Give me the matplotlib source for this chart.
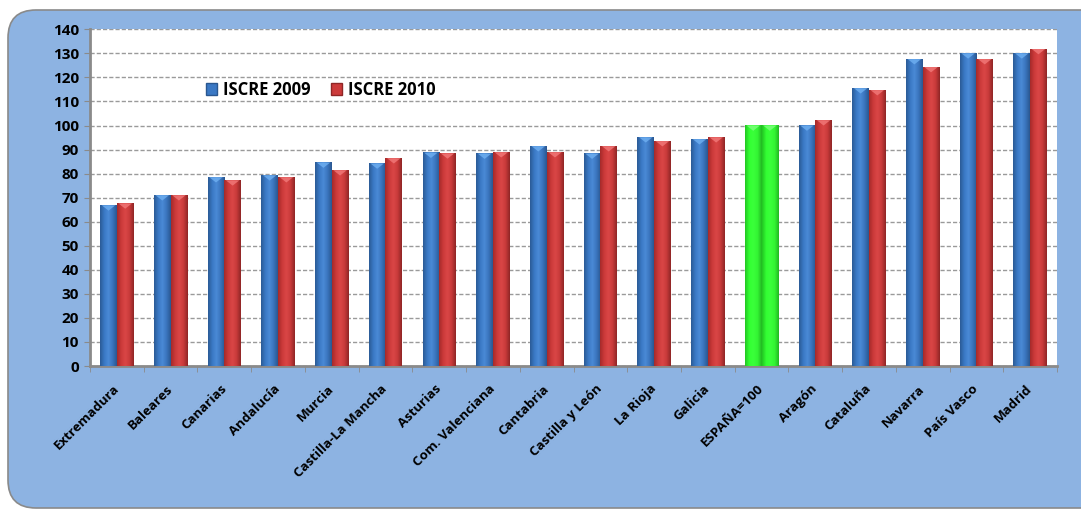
import numpy as np
import matplotlib

matplotlib.use("Agg")
import matplotlib.pyplot as plt
from matplotlib.colors import LinearSegmentedColormap
from matplotlib.patches import FancyBboxPatch, Polygon, Rectangle

plt.rcParams["font.family"] = ["Open Sans", "DejaVu Sans"]

regions = ["Extremadura", "Baleares", "Canarias", "Andalucía", "Murcia", "Castilla-La Mancha",
           "Asturias", "Com. Valenciana", "Cantabria", "Castilla y León", "La Rioja", "Galicia",
           "ESPAÑA=100", "Aragón", "Cataluña", "Navarra", "País Vasco", "Madrid"]
iscre_2009 = [66.8, 71.0, 78.5, 79.3, 84.6, 84.2, 88.7, 88.3, 91.4, 88.3, 95.1, 94.3,
              100.0, 100.0, 115.5, 127.6, 130.0, 130.0]
iscre_2010 = [67.6, 71.0, 77.2, 78.5, 81.4, 86.4, 88.4, 88.9, 88.9, 91.4, 93.5, 95.1,
              100.0, 102.2, 114.7, 124.3, 127.6, 131.8]
highlight = "ESPAÑA=100"

# cylinder-ish shading: dark edge -> light middle -> dark edge
CMAPS = {
    "blue": LinearSegmentedColormap.from_list("b", ["#2b5b96", "#3a78c4", "#4a8ad6", "#3a74bd", "#2a5790"]),
    "red": LinearSegmentedColormap.from_list("r", ["#a52a2a", "#cc3a3a", "#da4646", "#c83a3a", "#8f2626"]),
    "green": LinearSegmentedColormap.from_list("g", ["#22c622", "#33ff33", "#3aff3a", "#33f533", "#22b822"]),
}
CAPS = {"blue": "#6fb0f2", "red": "#f27a7a", "green": "#7dff7d"}
grad = np.linspace(0, 1, 64).reshape(1, -1)


def cyl_bar(ax, x0, w, h, kind):
    ax.imshow(grad, cmap=CMAPS[kind], extent=(x0, x0 + w, 0, h), aspect="auto",
              interpolation="bilinear", zorder=3)
    cap = Polygon([(x0 + 0.03, h), (x0 + w - 0.03, h), (x0 + w / 2, h - 2.2)],
                  closed=True, facecolor=CAPS[kind], edgecolor="none", alpha=0.8, zorder=4)
    ax.add_patch(cap)


W, H = 1081, 512
fig = plt.figure(figsize=(W / 100, H / 100), dpi=100)
fig.patch.set_facecolor("white")
# rounded blue panel behind the chart, in pixel units (display coords)
panel = FancyBboxPatch((8, H - 508), 1200, 498, boxstyle="round,pad=0,rounding_size=28",
                       transform=None, facecolor="#8db3e2", edgecolor="#8a8a8a",
                       linewidth=1.2, zorder=-5)
fig.patches.append(panel)

ax = fig.add_axes([90 / W, 1 - 366 / H, (1057 - 90) / W, (366 - 29.3) / H])
ax.set_facecolor("white")

n = len(regions)
w = 0.31
for i, (r, a, b) in enumerate(zip(regions, iscre_2009, iscre_2010)):
    left_kind, right_kind = ("green", "green") if r == highlight else ("blue", "red")
    cyl_bar(ax, i - w, w, a, left_kind)
    cyl_bar(ax, i, w, b, right_kind)

ax.set_xlim(-0.5, n - 0.5)
ax.set_ylim(0, 140)
ax.set_yticks(np.arange(0, 141, 10))
ax.set_yticklabels([str(v) for v in range(0, 141, 10)], fontsize=11, fontweight="bold")
ax.yaxis.grid(True, linestyle=(0, (3, 1.5)), color="#9a9a9a", linewidth=1.0, zorder=1)
ax.set_axisbelow(True)

ax.set_xticks(np.arange(n))
ax.set_xticklabels(regions, rotation=45, ha="right", va="center", rotation_mode="anchor",
                   fontsize=9.5, fontweight="bold")
ax.set_xticks(np.arange(n + 1) - 0.5, minor=True)
ax.tick_params(axis="x", which="major", length=0, pad=15)
ax.tick_params(axis="x", which="minor", length=4, color="#8a8a8a")
ax.tick_params(axis="y", length=4, color="#8a8a8a", pad=4)

for side in ("top", "right"):
    ax.spines[side].set_visible(False)
ax.spines["left"].set_color("#8a8a8a")
ax.spines["bottom"].set_color("#8a8a8a")
ax.spines["left"].set_linewidth(2)
ax.spines["bottom"].set_linewidth(2)

handles = [Rectangle((0, 0), 1, 1, facecolor="#3a78c4", edgecolor="#2a5790"),
           Rectangle((0, 0), 1, 1, facecolor="#cc3a3a", edgecolor="#8f2626")]
ax.legend(handles, ["ISCRE 2009", "ISCRE 2010"], loc="center left", bbox_to_anchor=(0.104, 0.82),
          ncol=2, frameon=False, prop={"weight": "bold", "size": 12}, handlelength=0.7,
          handleheight=0.7, handletextpad=0.35, columnspacing=1.2)

fig.savefig("out.png", dpi=100)
